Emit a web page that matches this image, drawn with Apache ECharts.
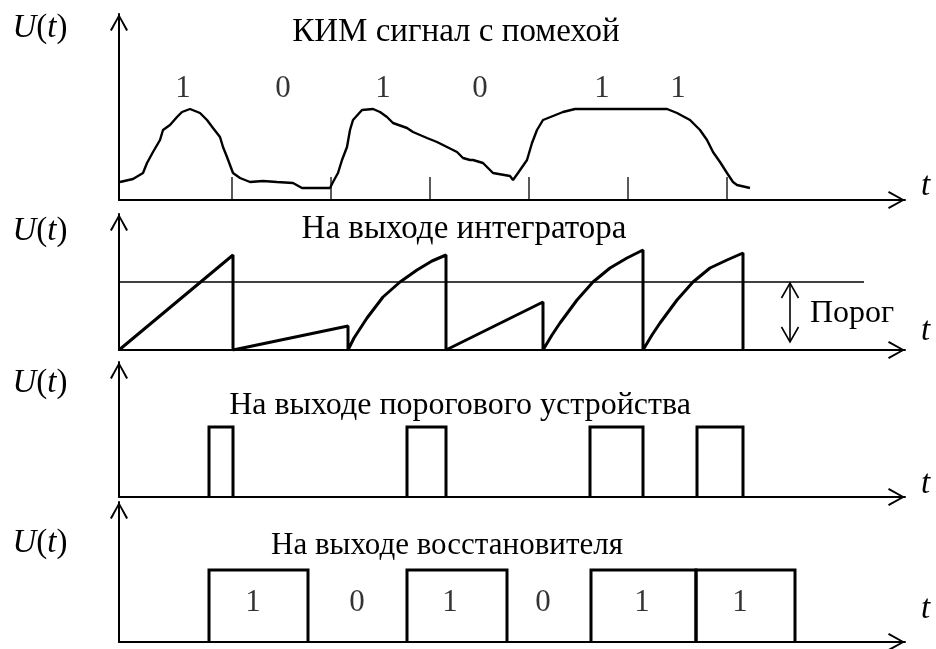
<!DOCTYPE html>
<html><head><meta charset="utf-8">
<script src="https://cdn.jsdelivr.net/npm/echarts@6/dist/echarts.min.js"></script>
<style>html,body{margin:0;padding:0;background:#fff}#c{width:936px;height:649px}</style>
</head><body><div id="c"></div>
<script>
// ---- data (time units; 1 unit ~ 1/10 of a display step) ----
const timeMax = 78.6;
const yMax = [18.6, 13.6, 13.5, 14.0];
const bitLabels = ['1', '0', '1', '0', '1', '1'];

// panel 1: noisy PCM signal
const noisySignal = [
  [0.1,1.8],[1.4,2.1],[2.4,2.7],[2.8,3.7],[3.4,4.8],[4.1,6.0],[4.4,7.0],[5.1,7.5],[5.8,8.3],[6.3,8.8],
  [7.1,9.1],[8.1,8.7],[8.8,8.0],[9.4,7.2],[10.1,6.3],[10.4,5.3],[10.8,4.3],[11.4,2.7],[12.1,2.2],[13.1,1.8],
  [14.4,1.9],[15.8,1.8],[17.4,1.7],[18.3,1.2],[21.1,1.2],[21.4,1.8],[21.9,2.7],[22.3,4.0],[22.8,5.3],[23.1,7.0],
  [23.4,8.0],[24.3,9.0],[25.4,9.1],[26.1,8.8],[26.8,8.3],[27.4,7.7],[28.8,7.2],[29.4,6.8],[30.8,6.2],[31.8,5.8],
  [32.8,5.3],[33.8,4.8],[34.4,4.2],[35.1,4.0],[35.4,4.0],[36.4,3.7],[37.4,2.7],[39.1,2.4],[39.4,2.0],[39.9,2.7],
  [40.8,4.0],[41.3,5.7],[41.8,7.0],[42.4,8.0],[43.4,8.4],[44.4,8.8],[45.6,9.1],[54.8,9.1],[55.8,8.7],[57.1,8.0],
  [58.1,7.0],[58.8,6.0],[59.4,4.8],[60.1,3.8],[60.8,2.7],[61.4,1.8],[61.8,1.5],[63.1,1.2]
];
const bitTicks = [11.3, 21.2, 31.1, 41.0, 50.9, 60.8];
const bitTickHeight = 2.3;
const bitLabelX1 = [6.4, 16.4, 26.4, 36.1, 48.3, 55.9];
const bitLabelY1 = 11.1;

// panel 2: integrator output
const integratorOut = [
  [0,0],[11.4,9.5],[11.4,0],[22.9,2.4],[22.9,0],
  [23.5,1.2],[24.8,3.2],[26.4,5.3],[28.1,6.8],[29.8,8.0],[31.3,8.9],[32.7,9.5],[32.7,0],
  [42.4,4.8],[42.4,0],
  [43.3,1.5],[44.1,2.7],[45.8,5.0],[47.4,6.8],[49.1,8.2],[50.8,9.2],[52.4,10.0],[52.4,0],
  [53.3,1.5],[54.1,2.7],[55.8,5.0],[57.4,6.8],[59.1,8.2],[60.8,9.0],[62.4,9.7],[62.4,0]
];
const threshold = 6.8;
const thresholdEnd = 74.5;
const thresholdArrow = [67.1, 0.8, 6.7]; // x, bottom, top

// panel 3: threshold device output
const pulseStart = [9.0, 28.8, 47.1, 57.8];
const pulseEnd = [11.4, 32.7, 52.4, 62.4];
const pulseLevel = 7.0;

// panel 4: restorer output
const restoredStart = [9.0, 28.8, 47.2, 57.7];
const restoredEnd = [18.9, 38.8, 57.7, 67.6];
const restoredLevel = 7.2;
const bitLabelX4 = [13.4, 23.8, 33.1, 42.4, 52.3, 62.1];
const bitLabelY4 = 3.9;

// ---- texts ----
const panelTitles = ['КИМ сигнал с помехой', 'На выходе интегратора', 'На выходе порогового устройства', 'На выходе восстановителя'];
const thresholdLabel = 'Порог';

const FONT = '"Liberation Serif","Times New Roman",serif';
const chevron = 'path://M0,16 L9,0 L18,16 L16.2,17 L9,3.6 L1.8,17 Z';
const gridTops = [14, 214, 362, 502];

const grids = gridTops.map((t, i) => ({left: 119, top: t, width: 786, height: [186,136,135,140][i]}));
const axisLine = {show: true, onZero: false, symbol: ['none', chevron], symbolSize: [18, 17], symbolOffset: [0, -8.5],
  lineStyle: {color: '#000', width: 2}};
const xAxes = grids.map((g, i) => ({type: 'value', gridIndex: i, min: 0, max: timeMax, axisLine,
  axisTick: {show: false}, axisLabel: {show: false}, splitLine: {show: false}}));
const yAxes = grids.map((g, i) => ({type: 'value', gridIndex: i, min: 0, max: yMax[i], axisLine,
  axisTick: {show: false}, axisLabel: {show: false}, splitLine: {show: false}}));

function labelSeries(idx, xs, y) {
  return {type: 'scatter', xAxisIndex: idx, yAxisIndex: idx, symbolSize: 0, silent: true,
    data: xs.map((x, i) => ({value: [x, y], label: {formatter: bitLabels[i]}})),
    label: {show: true, position: 'inside', color: '#000', fontSize: 31, fontFamily: FONT}};
}
function boxSeries(idx, starts, ends, level) {
  return {type: 'custom', xAxisIndex: idx, yAxisIndex: idx, silent: true, clip: false,
    data: starts.map((s, i) => [s, ends[i], level]),
    renderItem: (params, api) => {
      const s = api.value(0), e = api.value(1), h = api.value(2);
      return {type: 'polyline', shape: {points: [api.coord([s, 0]), api.coord([s, h]), api.coord([e, h]), api.coord([e, 0])]},
        style: {stroke: '#000', lineWidth: 3, fill: null}};
    }};
}

const series = [
  {type: 'line', xAxisIndex: 0, yAxisIndex: 0, data: noisySignal, symbol: 'none', silent: true,
    lineStyle: {color: '#000', width: 2.4}},
  {type: 'custom', xAxisIndex: 0, yAxisIndex: 0, silent: true, data: bitTicks.map(x => [x, bitTickHeight]),
    renderItem: (p, api) => {
      const a = api.coord([api.value(0), 0]), b = api.coord([api.value(0), api.value(1)]);
      return {type: 'line', shape: {x1: a[0], y1: a[1], x2: b[0], y2: b[1]}, style: {stroke: '#000', lineWidth: 1.3}};
    }},
  labelSeries(0, bitLabelX1, bitLabelY1),
  {type: 'line', xAxisIndex: 1, yAxisIndex: 1, data: integratorOut, symbol: 'none', silent: true,
    lineStyle: {color: '#000', width: 3}},
  {type: 'line', xAxisIndex: 1, yAxisIndex: 1, data: [[0, threshold], [thresholdEnd, threshold]], symbol: 'none', silent: true,
    lineStyle: {color: '#000', width: 1.6}},
  {type: 'custom', xAxisIndex: 1, yAxisIndex: 1, silent: true, data: [thresholdArrow],
    renderItem: (p, api) => {
      const b = api.coord([api.value(0), api.value(1)]), t = api.coord([api.value(0), api.value(2)]);
      const st = {stroke: '#000', lineWidth: 1.6, fill: null};
      return {type: 'group', children: [
        {type: 'line', shape: {x1: b[0], y1: b[1], x2: t[0], y2: t[1]}, style: st},
        {type: 'polyline', shape: {points: [[t[0]-8.5, t[1]+15], [t[0], t[1]], [t[0]+8.5, t[1]+15]]}, style: st},
        {type: 'polyline', shape: {points: [[b[0]-8.5, b[1]-15], [b[0], b[1]], [b[0]+8.5, b[1]-15]]}, style: st}
      ]};
    }},
  boxSeries(2, pulseStart, pulseEnd, pulseLevel),
  boxSeries(3, restoredStart, restoredEnd, restoredLevel),
  labelSeries(3, bitLabelX4, bitLabelY4)
];

const uLabelY = [28, 231, 383, 543];
const tLabelY = [186, 331, 484, 609];
const titlePos = [[456, 32], [464, 229], [460, 406], [447, 546]];
const titleSize = [33, 33, 32, 31];
const graphic = [];
uLabelY.forEach(y => graphic.push({type: 'text', x: 40, y, silent: true, style: {
  text: '{i|U}{n|(}{i|t}{n|)}', align: 'center', verticalAlign: 'middle',
  rich: {i: {fontStyle: 'italic', fontSize: 33, fontFamily: FONT, fill: '#000'}, n: {fontSize: 33, fontFamily: FONT, fill: '#000'}}}}));
tLabelY.forEach(y => graphic.push({type: 'text', x: 921, y, silent: true, style: {
  text: 't', fontStyle: 'italic', fontSize: 33, fontFamily: FONT, fill: '#000', align: 'left', verticalAlign: 'middle'}}));
panelTitles.forEach((s, i) => graphic.push({type: 'text', x: titlePos[i][0], y: titlePos[i][1], silent: true, style: {
  text: s, fontSize: titleSize[i], fontFamily: FONT, fill: '#000', align: 'center', verticalAlign: 'middle'}}));
graphic.push({type: 'text', x: 810, y: 314, silent: true, style: {
  text: thresholdLabel, fontSize: 32, fontFamily: FONT, fill: '#000', align: 'left', verticalAlign: 'middle'}});

const chart = echarts.init(document.getElementById('c'), null, {renderer: 'canvas'});
chart.setOption({animation: false, backgroundColor: '#fff', grid: grids, xAxis: xAxes, yAxis: yAxes, series, graphic});
</script></body></html>
